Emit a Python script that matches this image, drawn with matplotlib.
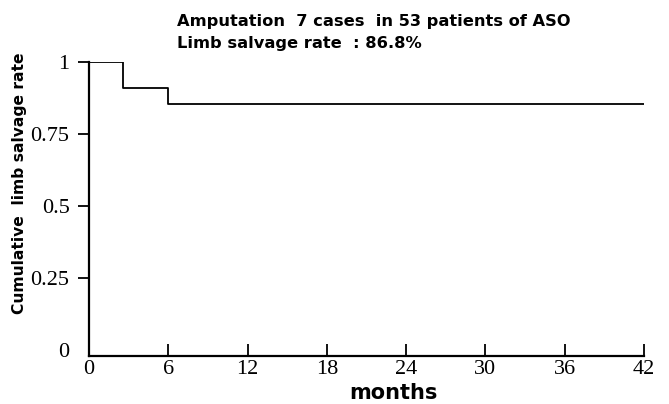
import matplotlib
matplotlib.use("Agg")
import matplotlib.pyplot as plt

# Data (Kaplan-Meier step curve)
months = [0, 2.6, 6, 42]
survival = [1.0, 0.91, 0.855, 0.855]
x_ticks = [0, 6, 12, 18, 24, 30, 36, 42]
y_ticks = [0, 0.25, 0.5, 0.75, 1]
y_tick_labels = ["0", "0.25", "0.5", "0.75", "1"]
title_lines = ["Amputation  7 cases  in 53 patients of ASO",
               "Limb salvage rate  : 86.8%"]

W, H = 669, 404
fig = plt.figure(figsize=(W / 100, H / 100), dpi=100)
left, right, top, bottom = 89, 644, 62, 356
ax = fig.add_axes([left / W, 1 - bottom / H, (right - left) / W, (bottom - top) / H])

ax.step(months, survival, where="post", color="black", lw=1.3)
ax.set_xlim(0, 42)
ax.set_ylim(-0.02, 1.0)

for s in ["top", "right"]:
    ax.spines[s].set_visible(False)
for s in ["left", "bottom"]:
    ax.spines[s].set_linewidth(1.6)

serif = ["Liberation Serif", "DejaVu Serif"]
sans = "DejaVu Sans"

ax.set_xticks(x_ticks)
ax.set_xticklabels([str(v) for v in x_ticks], fontfamily=serif, fontsize=16)
ax.set_yticks(y_ticks)
ax.set_yticklabels(y_tick_labels, fontfamily=serif, fontsize=16)
ax.tick_params(axis="x", direction="in", length=9, width=1.3, pad=3)
ax.tick_params(axis="y", direction="out", length=8, width=1.3, pad=6)
# No visible tick mark at y=0 or x=0 in the reference
ax.yaxis.get_major_ticks()[0].tick1line.set_visible(False)
ax.xaxis.get_major_ticks()[0].tick1line.set_visible(False)

# Axis titles placed where the reference shows them
fig.text(393 / W, 1 - 399 / H, "months", fontfamily=sans, fontweight="bold",
         fontsize=15, ha="center", va="baseline")
fig.text(20 / W, 1 - 183 / H, "Cumulative  limb salvage rate", fontfamily=sans,
         fontweight="bold", fontsize=11.2, rotation=90, ha="center", va="center")

fig.text(177 / W, 1 - 26 / H, title_lines[0], fontfamily=sans, fontweight="bold",
         fontsize=11.7, ha="left", va="baseline")
fig.text(177 / W, 1 - 48 / H, title_lines[1], fontfamily=sans, fontweight="bold",
         fontsize=11.7, ha="left", va="baseline")

fig.savefig("out.png", dpi=100)
